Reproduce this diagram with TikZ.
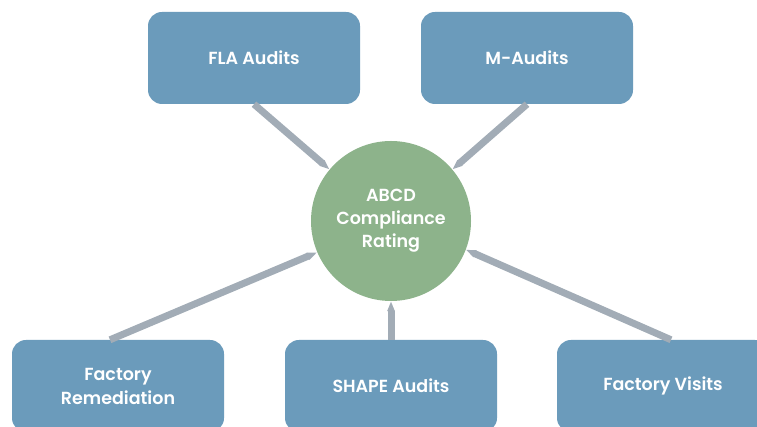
\documentclass[tikz,border=0pt]{standalone}
\usepackage{fontspec}
\setmainfont{Poppins}[BoldFont={Poppins SemiBold}]
\usetikzlibrary{arrows.meta}
\definecolor{boxblue}{HTML}{6B9BBB}
\definecolor{ratinggreen}{HTML}{8DB38B}
\definecolor{bargray}{HTML}{A2ACB6}
\begin{document}
\begin{tikzpicture}[x=1pt,y=1pt,every text node part/.style={align=center}]

\tikzstyle{source} = [rounded corners=14pt,rectangle,fill=boxblue,text=white,minimum width=212pt,minimum height=92pt,inner sep=0,font=\fontsize{17.5}{24}\selectfont\bfseries]
\tikzstyle{rating} = [circle,fill=ratinggreen,text=white,minimum size=160pt,inner sep=0,font=\fontsize{17.5}{23}\selectfont\bfseries]
\tikzstyle{feed} = [draw=bargray,line width=7pt,-{Triangle[length=10pt,width=7pt]}]

\useasboundingbox (0,0) rectangle (757,427);
\clip (0,0) rectangle (757,427);

\node [rating] (abcd) at (391,206) {ABCD\\Compliance\\Rating};

\node [source] (fla) at (254,369) {FLA Audits};
\node [source] (maudits) at (527,369) {M-Audits};
\node [source] (remed) at (118,41) {Factory\\Remediation};
\node [source] (shape) at (391,41) {SHAPE Audits};
\node [source] (visits) at (663,41) {Factory Visits};

\draw [feed] (fla.south) -- (abcd.140);
\draw [feed] (maudits.south) -- (abcd.40);
\draw [feed] ([xshift=-8pt]remed.north) -- (abcd.203);
\draw [feed] (shape.north) -- (abcd.south);
\draw [feed] ([xshift=8pt]visits.north) -- (abcd.339);
\end{tikzpicture}
\end{document}
